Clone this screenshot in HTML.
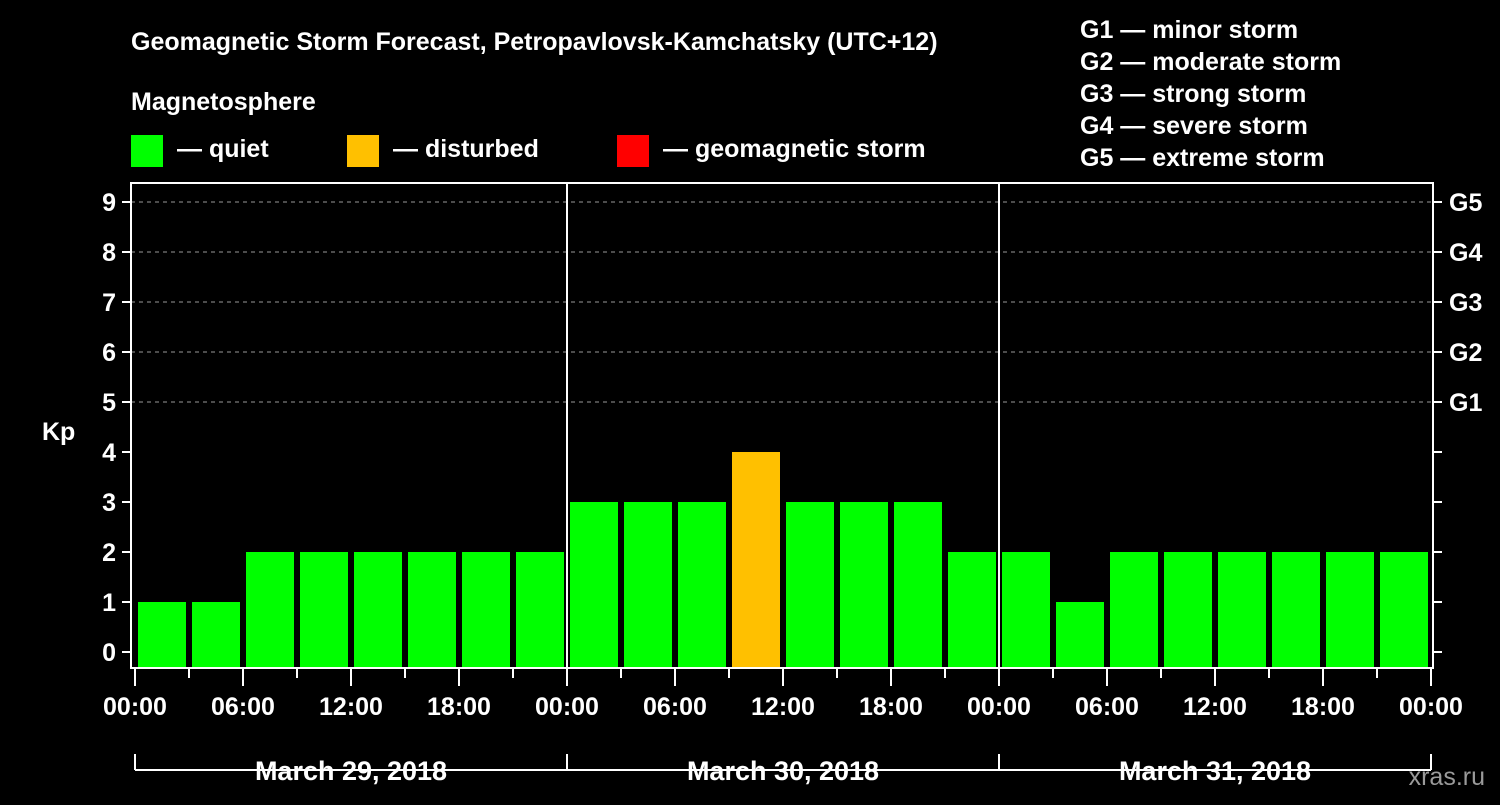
<!DOCTYPE html>
<html><head><meta charset="utf-8"><style>
body{margin:0;background:#000;width:1500px;height:800px;overflow:hidden}
svg text{font-family:"Liberation Sans",Arial,sans-serif;font-weight:bold;fill:#fff}
</style></head><body>
<svg id="c" width="1500" height="800">
<text x="131" y="50" font-size="25">Geomagnetic Storm Forecast, Petropavlovsk-Kamchatsky (UTC+12)</text>
<text x="131" y="110" font-size="25">Magnetosphere</text>
<rect x="131" y="135" width="32" height="32" fill="#00ff00"/>
<text x="177" y="157" font-size="25">— quiet</text>
<rect x="347" y="135" width="32" height="32" fill="#ffc000"/>
<text x="393" y="157" font-size="25">— disturbed</text>
<rect x="617" y="135" width="32" height="32" fill="#ff0000"/>
<text x="663" y="157" font-size="25">— geomagnetic storm</text>
<g font-size="25">
<text x="1080" y="38">G1 — minor storm</text>
<text x="1080" y="70">G2 — moderate storm</text>
<text x="1080" y="102">G3 — strong storm</text>
<text x="1080" y="134">G4 — severe storm</text>
<text x="1080" y="166">G5 — extreme storm</text>
</g>
<text x="42" y="440" font-size="25">Kp</text>
<text x="1485" y="785" font-size="25" text-anchor="end" fill="#888" style="fill:#9a9a9a;font-weight:normal">xras.ru</text>
<g id="plot"></g>
</svg>
<script>
const kpValues=[1,1,2,2,2,2,2,2,3,3,3,4,3,3,3,2,2,1,2,2,2,2,2,2];
const yTicks=[0,1,2,3,4,5,6,7,8,9];
const gLabels=["G1","G2","G3","G4","G5"];
const gLevels=[5,6,7,8,9];
const xTickLabels=["00:00","06:00","12:00","18:00","00:00","06:00","12:00","18:00","00:00","06:00","12:00","18:00","00:00"];
const dayLabels=["March 29, 2018","March 30, 2018","March 31, 2018"];
const NS="http://www.w3.org/2000/svg";
const g=document.getElementById('plot');
const L=131,R=1433,T=183,B=668;
const x=h=>135+h*18;
const y=v=>652-v*50;
function mk(t,a){const e=document.createElementNS(NS,t);for(const k in a)e.setAttribute(k,a[k]);g.appendChild(e);return e;}
gLevels.forEach(v=>{const e=mk('line',{x1:L,x2:R,y1:y(v),y2:y(v),stroke:'#999','stroke-dasharray':'4,4','stroke-width':1});

});
kpValues.forEach((v,i)=>{const c=v>=5?'#ff0000':(v>=4?'#ffc000':'#00ff00');
const e=mk('rect',{x:x(i*3)+3,y:y(v),width:48,height:B-y(v),fill:c});

});
[1,2].forEach(d=>{const e=mk('line',{x1:x(d*24),x2:x(d*24),y1:T,y2:B,stroke:'#fff','stroke-width':2});

});
const fr=mk('rect',{x:L,y:T,width:R-L,height:B-T,fill:'none',stroke:'#fff','stroke-width':2});


yTicks.forEach(v=>{mk('line',{x1:122,x2:L,y1:y(v),y2:y(v),stroke:'#fff','stroke-width':2});
mk('line',{x1:R,x2:R+9,y1:y(v),y2:y(v),stroke:'#fff','stroke-width':2});
const t=mk('text',{x:116,y:y(v)+9,'font-size':25,'text-anchor':'end'});t.textContent=v;

});
gLabels.forEach((s,i)=>{const t=mk('text',{x:1449,y:y(gLevels[i])+9,'font-size':25});t.textContent=s;

});
for(let h=0;h<=72;h+=3){const maj=h%6===0;mk('line',{x1:x(h),x2:x(h),y1:B,y2:maj?686:678,stroke:'#fff','stroke-width':2});}
xTickLabels.forEach((s,i)=>{const t=mk('text',{x:x(i*6),y:715,'font-size':25,'text-anchor':'middle'});t.textContent=s;

});
mk('line',{x1:x(0),x2:x(72),y1:770,y2:770,stroke:'#fff','stroke-width':2});
[0,24,48,72].forEach(h=>mk('line',{x1:x(h),x2:x(h),y1:754,y2:770,stroke:'#fff','stroke-width':2}));
dayLabels.forEach((s,i)=>{const t=mk('text',{x:x(i*24+12),y:780,'font-size':27,'text-anchor':'middle'});t.textContent=s;

});
</script>
</body></html>
